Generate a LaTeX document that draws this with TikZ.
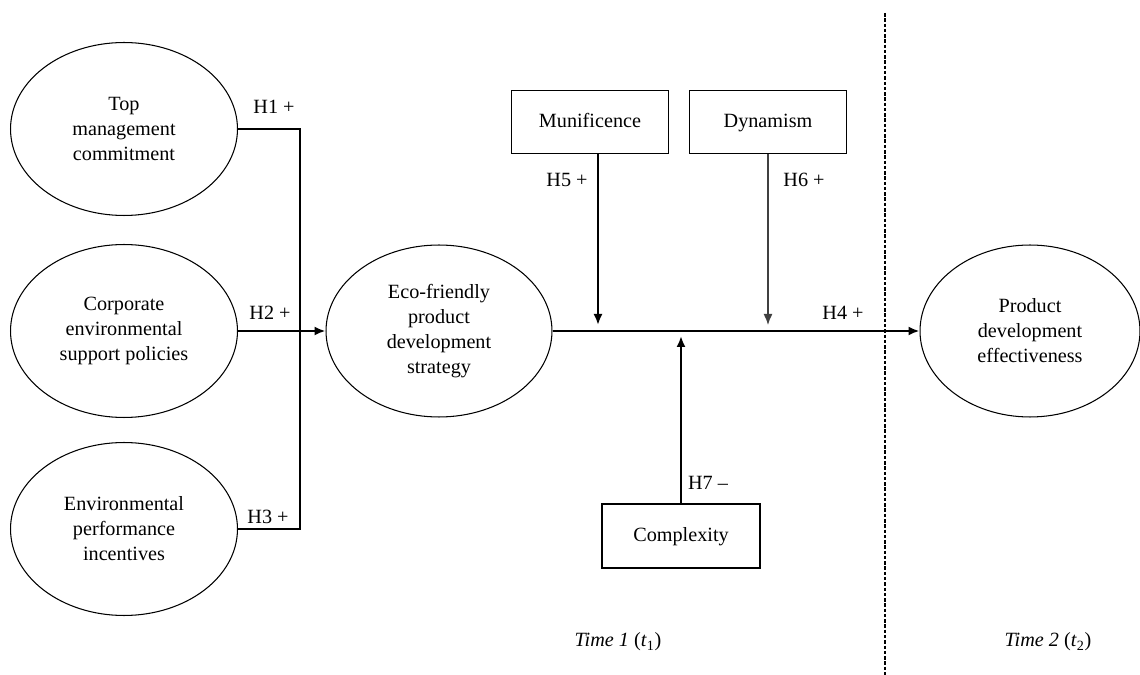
\documentclass[tikz,border=0pt]{standalone}
\usepackage{fontspec}
\setmainfont{Liberation Serif}
\usepackage{tikz}
\usetikzlibrary{shapes.geometric,arrows.meta,positioning,calc}

\begin{document}
\begin{tikzpicture}[
    x=0.02cm, y=-0.02cm,
    every node/.style={font=\fontsize{11.5}{14.2}\selectfont},
    latent/.style={ellipse, draw, line width=0.6pt, inner sep=0pt, minimum width=4.54cm, minimum height=3.46cm, align=center},
    factor/.style={rectangle, draw, line width=1pt, minimum width=3.14cm, minimum height=1.26cm, text height=1.7ex, text depth=0.45ex},
    conn/.style={line width=1.2pt},
    arrow/.style={-{Latex[length=2.2mm,width=1.8mm]}, line width=1.2pt},
    hyp/.style={inner sep=1pt}
]
    \useasboundingbox (0,0) rectangle (1140,675);

    % Antecedents
    \node[latent] (top) at (124,129) {Top\\management\\commitment};
    \node[latent] (corp) at (124,331) {Corporate\\environmental\\support policies};
    \node[latent] (envp) at (124,529) {Environmental\\performance\\incentives};

    % Strategy and outcome
    \node[latent, minimum width=4.52cm, minimum height=3.44cm] (eco) at (439,331) {Eco-friendly\\product\\development\\strategy};
    \node[latent, minimum width=4.4cm, minimum height=3.44cm] (prod) at (1030,331) {Product\\development\\effectiveness};

    % Moderators
    \node[factor] (munif) at (590,122) {Munificence};
    \node[factor] (dyna) at (768,122) {Dynamism};
    \node[factor, minimum width=3.16cm, minimum height=1.28cm] (compl) at (681,536) {Complexity};

    % Connections
    \coordinate (jn) at (300,331);
    \draw[conn] (top.east) -| (jn);
    \draw[conn] (envp.east) -| (jn);
    \draw[arrow] (corp.east) -- (eco.west);
    \draw[arrow] (eco.east) -- (prod.west);

    \coordinate (h5) at (598,325);
    \coordinate (h6) at (768,325);
    \coordinate (h7) at (681,336);
    \draw[arrow] (munif.south -| h5) -- (h5);
    \draw[arrow, line width=0.8pt, black!75] (dyna.south) -- (h6);
    \draw[arrow] (compl.north) -- (h7);

    % Hypotheses
    \node[hyp] (l1) at (274,107) {H1 +};
    \node[hyp] (l2) at (270,313) {H2 +};
    \node[hyp] (l3) at (268,517) {H3 +};
    \node[hyp] (l4) at (843,313) {H4 +};
    \node[hyp] (l5) at (567,180) {H5 +};
    \node[hyp] (l6) at (804,180) {H6 +};
    \node[hyp] (l7) at (708,483) {H7 –};

    % Time periods
    \coordinate (dtop) at (885,13);
    \coordinate (dbot) at (885,675);
    \draw[line width=0.8pt, dash pattern=on 2pt off 1pt] (dtop) -- (dbot);
    \node (t1) at (618,642) {\textit{Time 1} (\textit{t}\textsubscript{1})};
    \node (t2) at (1048,642) {\textit{Time 2} (\textit{t}\textsubscript{2})};
\end{tikzpicture}
\end{document}
